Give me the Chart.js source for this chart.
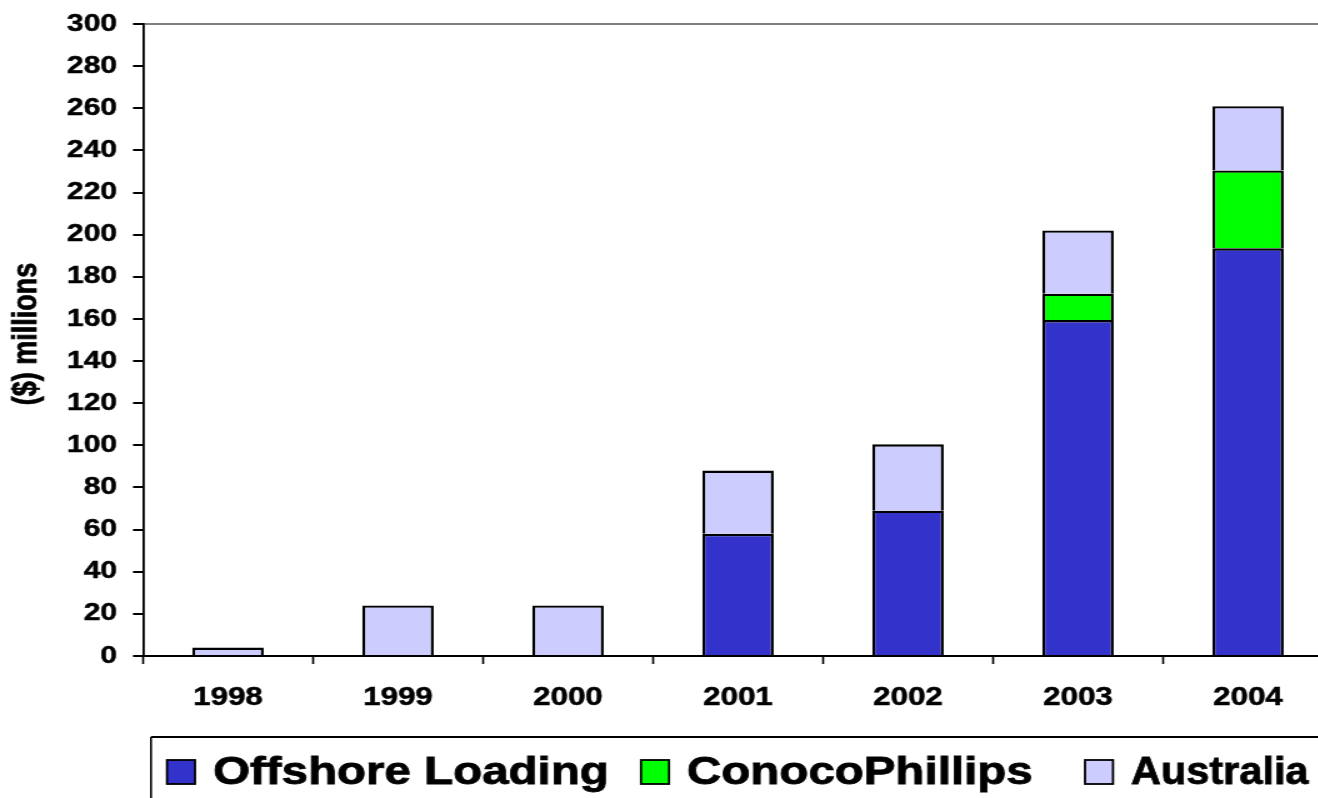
<!DOCTYPE html>
<html>
<head>
<meta charset="utf-8">
<script src="https://cdn.jsdelivr.net/npm/chart.js@4/dist/chart.umd.min.js"></script>
<style>
  html, body { margin: 0; padding: 0; background: #fff; overflow: hidden; width: 1318px; height: 798px; }
  #wrap { position: absolute; left: 0; top: 0; width: 1069px; height: 798px; transform: scaleX(1.25); transform-origin: 0 0; }
  canvas { display: block; }
</style>
</head>
<body>
<div id="wrap"><canvas id="chart" width="1069" height="798"></canvas></div>
<script>
// Annual spending, $ millions
const years = ['1998', '1999', '2000', '2001', '2002', '2003', '2004'];
const offshoreLoading = [null, null, null, 58, 69, 159.5, 193.5];
const conocoPhillips  = [null, null, null, null, null, 12.5, 37];
const australia       = [4, 24, 24, 30, 31.5, 30, 30.5];
const yTickValues = [0, 20, 40, 60, 80, 100, 120, 140, 160, 180, 200, 220, 240, 260, 280, 300];
const yTitle = '($) millions';

const FONT = '"Liberation Sans", Arial, Helvetica, sans-serif';

// Rotated value-axis title
const axisTitle = {
  id: 'axisTitle',
  afterDraw(chart) {
    const ctx = chart.ctx;
    ctx.save();
    ctx.translate(22, 334);
    ctx.rotate(-Math.PI / 2);
    ctx.font = 'bold 27px ' + FONT;
    ctx.fillStyle = '#000';
    ctx.strokeStyle = '#000';
    ctx.lineWidth = 0.6;
    ctx.textAlign = 'center';
    ctx.textBaseline = 'middle';
    ctx.fillText(yTitle, 0, 0);
    ctx.strokeText(yTitle, 0, 0);
    ctx.restore();
  }
};

// Boxed legend along the bottom edge
const boxedLegend = {
  id: 'boxedLegend',
  afterDraw(chart) {
    const ctx = chart.ctx;
    const W = chart.width, H = chart.height;
    const top = 737, left = 120.8;
    const squares = [133.6, 512.8, 868];
    const maxW = [null, null, 142];
    const sqW = 22.4, sqTop = 760, sqH = 24, gap = 14.4, baseline = 784;
    ctx.save();
    ctx.strokeStyle = '#000';
    ctx.lineWidth = 2;
    ctx.beginPath(); ctx.moveTo(left, top); ctx.lineTo(W, top); ctx.stroke();
    ctx.lineWidth = 1.6;
    ctx.beginPath(); ctx.moveTo(left, top); ctx.lineTo(left, H); ctx.stroke();
    ctx.font = 'bold 38px ' + FONT;
    ctx.textBaseline = 'alphabetic';
    ctx.textAlign = 'left';
    chart.data.datasets.forEach((ds, i) => {
      const x = squares[i];
      ctx.fillStyle = ds.backgroundColor;
      ctx.fillRect(x, sqTop, sqW, sqH);
      ctx.lineWidth = 1.8;
      ctx.strokeStyle = '#000';
      ctx.strokeRect(x, sqTop, sqW, sqH);
      ctx.fillStyle = '#000';
      ctx.lineWidth = 0.8;
      const tx = x + sqW + gap;
      if (maxW[i]) {
        ctx.fillText(ds.label, tx, baseline, maxW[i]);
        ctx.strokeText(ds.label, tx, baseline, maxW[i]);
      } else {
        ctx.fillText(ds.label, tx, baseline);
        ctx.strokeText(ds.label, tx, baseline);
      }
    });
    ctx.restore();
  }
};

new Chart(document.getElementById('chart'), {
  type: 'bar',
  data: {
    labels: years,
    datasets: [
      { label: 'Offshore Loading', data: offshoreLoading, backgroundColor: '#3333CC' },
      { label: 'ConocoPhillips', data: conocoPhillips, backgroundColor: '#00FF00' },
      { label: 'Australia', data: australia, backgroundColor: '#CCCCFF' }
    ].map(d => Object.assign(d, {
      borderColor: '#000',
      borderWidth: 2.4,
      barPercentage: 0.42,
      categoryPercentage: 1
    }))
  },
  options: {
    responsive: false,
    animation: false,
    devicePixelRatio: 1,
    layout: { padding: { top: 24, right: 2.6, left: 0, bottom: 0 } },
    plugins: { legend: { display: false }, tooltip: { enabled: false } },
    scales: {
      x: {
        stacked: true,
        grid: { display: true, drawOnChartArea: false, drawTicks: true, tickLength: 8, tickColor: '#000', tickWidth: 1.6, offset: true },
        border: { display: true, color: '#000', width: 2 },
        ticks: { color: '#000', font: { family: FONT, size: 25, weight: 'bold' }, padding: 19, maxRotation: 0, autoSkip: false, textStrokeColor: '#000', textStrokeWidth: 0.5 },
        afterFit(s) { s.height = 142; s.paddingLeft = 0; s.paddingRight = 0; }
      },
      y: {
        stacked: true,
        min: 0,
        max: 300,
        afterBuildTicks(s) { s.ticks = yTickValues.map(v => ({ value: v })); },
        grid: {
          drawOnChartArea: true,
          drawTicks: true,
          tickLength: 8,
          tickColor: '#000',
          lineWidth: 2,
          color: c => (c.tick && c.tick.value === 300 ? '#808080' : 'rgba(0,0,0,0)')
        },
        border: { display: true, color: '#000', width: 1.8 },
        ticks: { color: '#000', font: { family: FONT, size: 24, weight: 'bold' }, padding: 12.8, textStrokeColor: '#000', textStrokeWidth: 0.5 },
        afterFit(s) { s.width = 114.4; s.paddingTop = 0; s.paddingBottom = 0; }
      }
    }
  },
  plugins: [axisTitle, boxedLegend]
});
</script>
</body>
</html>
